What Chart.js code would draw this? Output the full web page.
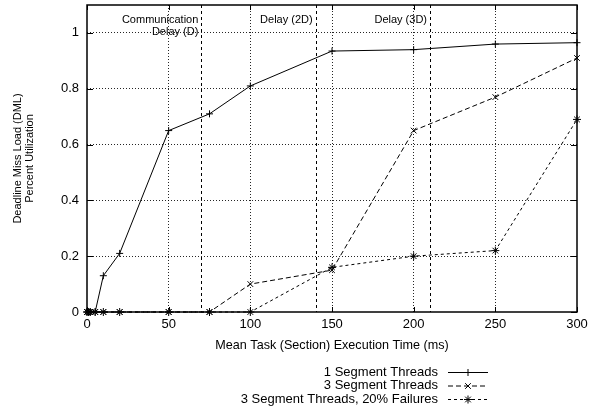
<!DOCTYPE html>
<html>
<head>
<meta charset="utf-8">
<script src="https://cdn.jsdelivr.net/npm/chart.js@4/dist/chart.umd.min.js"></script>
<style>
  html, body { margin: 0; padding: 0; background: #fff; }
  #wrap { width: 589px; height: 408px; }
</style>
</head>
<body>
<div id="wrap"><canvas id="dml"></canvas></div>
<script>
// execution times (ms) and deadline miss load per series
const execTimes = [0, 1, 2, 5, 10, 20, 50, 75, 100, 150, 200, 250, 300];
const oneSegment = [0, 0, 0, 0, 0.13, 0.21, 0.65, 0.71, 0.81, 0.935, 0.94, 0.96, 0.965];
const threeSegment = [0, 0, 0, 0, 0, 0, 0, 0, 0.1, 0.15, 0.65, 0.77, 0.91];
const threeSegmentFail = [0, 0, 0, 0, 0, 0, 0, 0, 0, 0.16, 0.2, 0.22, 0.69];
const seriesNames = ['1 Segment Threads', '3 Segment Threads', '3 Segment Threads, 20% Failures'];

const xTickValues = [0, 50, 100, 150, 200, 250, 300];
const yTickValues = [0, 0.2, 0.4, 0.6, 0.8, 1];

// communication delay markers
const delayMarks = [70, 140, 210];
const delayLabels = [['Communication', 'Delay (D)'], ['Delay (2D)'], ['Delay (3D)']];

Chart.defaults.font.family = "'Liberation Sans', Arial, Helvetica, sans-serif";
Chart.defaults.color = '#000';

function toPoints(ys) {
    return execTimes.map((x, i) => ({ x: x, y: ys[i] }));
}

function drawMarker(ctx, style, x, y, r) {
    ctx.beginPath();
    if (style === 'cross' || style === 'star') {
        ctx.moveTo(x - r, y); ctx.lineTo(x + r, y);
        ctx.moveTo(x, y - r); ctx.lineTo(x, y + r);
    }
    if (style === 'crossRot' || style === 'star') {
        const d = r * Math.SQRT1_2;
        ctx.moveTo(x - d, y - d); ctx.lineTo(x + d, y + d);
        ctx.moveTo(x - d, y + d); ctx.lineTo(x + d, y - d);
    }
    ctx.stroke();
}

// gnuplot style frame: delay lines, border, inward ticks, key
const framePlugin = {
    id: 'frame',
    beforeDatasetsDraw(chart) {
        const { ctx, chartArea: a, scales: { x } } = chart;
        ctx.save();
        ctx.strokeStyle = '#000';
        ctx.lineWidth = 1;
        ctx.setLineDash([3, 3]);
        delayMarks.forEach(v => {
            const px = Math.round(x.getPixelForValue(v)) + 0.5;
            ctx.beginPath();
            ctx.moveTo(px, a.top);
            ctx.lineTo(px, a.bottom);
            ctx.stroke();
        });
        ctx.setLineDash([]);
        ctx.font = "11px 'Liberation Sans', Arial, sans-serif";
        ctx.fillStyle = '#000';
        ctx.textAlign = 'right';
        ctx.textBaseline = 'middle';
        delayMarks.forEach((v, i) => {
            const px = x.getPixelForValue(v) - 3;
            delayLabels[i].forEach((t, j) => ctx.fillText(t, px, 20 + j * 11.5));
        });
        ctx.restore();
    },
    afterDatasetsDraw(chart) {
        const { ctx, chartArea: a, scales: { x, y } } = chart;
        ctx.save();
        ctx.strokeStyle = '#000';
        ctx.lineWidth = 1;
        ctx.beginPath();
        xTickValues.forEach(v => {
            const px = Math.round(x.getPixelForValue(v)) + 0.5;
            ctx.moveTo(px, a.bottom); ctx.lineTo(px, a.bottom - 5);
            ctx.moveTo(px, a.top); ctx.lineTo(px, a.top + 5);
        });
        yTickValues.forEach(v => {
            const py = Math.round(y.getPixelForValue(v)) + 0.5;
            ctx.moveTo(a.left, py); ctx.lineTo(a.left + 6, py);
            ctx.moveTo(a.right, py); ctx.lineTo(a.right - 6, py);
        });
        ctx.stroke();
        ctx.lineWidth = 1.5;
        ctx.strokeRect(a.left, a.top, a.right - a.left, a.bottom - a.top);
        ctx.restore();
    },
    afterDraw(chart) {
        const { ctx } = chart;
        ctx.save();
        ctx.font = "13px 'Liberation Sans', Arial, sans-serif";
        ctx.fillStyle = '#000';
        ctx.strokeStyle = '#000';
        ctx.textAlign = 'right';
        ctx.textBaseline = 'middle';
        chart.data.datasets.forEach((ds, i) => {
            const yy = 372 + i * 13.5;
            ctx.fillText(ds.label, 438, yy);
            ctx.lineWidth = 1;
            ctx.setLineDash(ds.borderDash || []);
            ctx.beginPath();
            ctx.moveTo(448, yy + 0.5);
            ctx.lineTo(488, yy + 0.5);
            ctx.stroke();
            ctx.setLineDash([]);
            drawMarker(ctx, ds.pointStyle, 468, yy + 0.5, ds.pointRadius);
        });
        ctx.restore();
    }
};

const common = {
    showLine: true,
    borderColor: '#000',
    backgroundColor: '#000',
    borderWidth: 1,
    pointBorderColor: '#000',
    pointBorderWidth: 1,
    tension: 0,
    clip: false
};

new Chart(document.getElementById('dml'), {
    type: 'scatter',
    data: {
        datasets: [
            Object.assign({}, common, { label: seriesNames[0], data: toPoints(oneSegment), pointStyle: 'cross', pointRadius: 3.5, borderDash: [] }),
            Object.assign({}, common, { label: seriesNames[1], data: toPoints(threeSegment), pointStyle: 'crossRot', pointRadius: 4, borderDash: [5, 3] }),
            Object.assign({}, common, { label: seriesNames[2], data: toPoints(threeSegmentFail), pointStyle: 'star', pointRadius: 4, borderDash: [3, 3] })
        ]
    },
    options: {
        responsive: true,
        maintainAspectRatio: false,
        animation: false,
        layout: { padding: { top: 5, right: 12, left: 0, bottom: 0 } },
        plugins: {
            legend: { display: false },
            tooltip: { enabled: false }
        },
        scales: {
            x: {
                type: 'linear',
                min: 0,
                max: 300,
                afterBuildTicks: s => { s.ticks = xTickValues.map(v => ({ value: v })); },
                afterFit: s => { s.height = 96; s.paddingLeft = 0; s.paddingRight = 0; },
                ticks: { font: { size: 13 }, padding: 5, maxRotation: 0, callback: v => String(v) },
                grid: {
                    drawTicks: false,
                    color: c => (c.tick && (c.tick.value === 0 || c.tick.value === 300)) ? 'rgba(0,0,0,0)' : 'rgba(0,0,0,0.85)',
                    lineWidth: 1
                },
                border: { display: false, dash: [1, 2] },
                title: {
                    display: true,
                    text: 'Mean Task (Section) Execution Time (ms)',
                    font: { size: 12.6 },
                    padding: { top: 0, bottom: 55 }
                }
            },
            y: {
                type: 'linear',
                min: 0,
                max: 1.1,
                afterBuildTicks: s => { s.ticks = yTickValues.map(v => ({ value: v })); },
                afterFit: s => { s.width = 87; s.paddingTop = 0; s.paddingBottom = 0; },
                ticks: { font: { size: 13 }, padding: 8, callback: v => String(v) },
                grid: {
                    drawTicks: false,
                    color: c => (c.tick && c.tick.value === 0) ? 'rgba(0,0,0,0)' : 'rgba(0,0,0,0.85)',
                    lineWidth: 1
                },
                border: { display: false, dash: [1, 2] },
                title: {
                    display: true,
                    text: ['Deadline Miss Load (DML)', 'Percent Utilization'],
                    font: { size: 11, lineHeight: 1.1 },
                    padding: { top: 11.5, bottom: 0 }
                }
            }
        }
    },
    plugins: [framePlugin]
});
</script>
</body>
</html>
